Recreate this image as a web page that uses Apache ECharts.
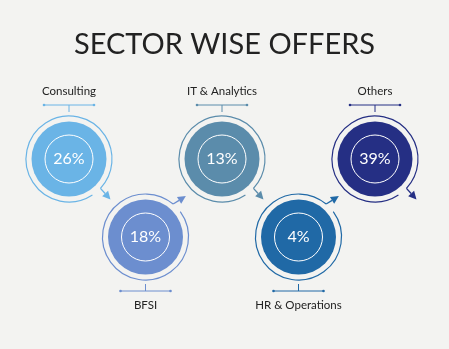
<!DOCTYPE html>
<html>
<head>
<meta charset="utf-8">
<script src="https://cdn.jsdelivr.net/npm/echarts@6/dist/echarts.min.js"></script>
<style>
html,body{margin:0;padding:0;background:#f3f3f1;}
#chart{width:449px;height:349px;}
</style>
</head>
<body>
<div id="chart"></div>
<script>
const title = 'SECTOR WISE OFFERS';
const sectors = ['Consulting', 'BFSI', 'IT & Analytics', 'HR & Operations', 'Others'];
const shares = [26, 18, 13, 4, 39];
const palette = ['#6ab4e6', '#6c8ecf', '#5b8cab', '#2069a6', '#252f84'];

const chart = echarts.init(document.getElementById('chart'));
const deg = Math.PI / 180;

function renderItem(params, api) {
  const idx = params.dataIndex;
  const top = idx % 2 === 0;
  const c = api.coord([api.value(0), top ? 1 : 0]);
  const cx = c[0], cy = c[1];
  const col = palette[idx];
  const R = 43, r = 37.5, ri = 24;
  const exit = top ? 43 : -50;
  const tailDir = top ? 48 : -32;
  const ex = cx + R * Math.cos(exit * deg), ey = cy + R * Math.sin(exit * deg);
  const tl = 15;
  const tx = ex + tl * Math.cos(tailDir * deg), ty = ey + tl * Math.sin(tailDir * deg);
  const ah = 8, aw = 4;
  const ux = Math.cos(tailDir * deg), uy = Math.sin(tailDir * deg);
  const bx = tx - ah * ux, by = ty - ah * uy;
  const px = -uy, py = ux;
  const children = [
    { type: 'arc', shape: { cx, cy, r: R, startAngle: (exit + 14) * deg, endAngle: (exit + 360) * deg, clockwise: true },
      style: { stroke: col, fill: null, lineWidth: 1.2 } },
    { type: 'polyline', shape: { points: [[ex, ey], [bx, by]] }, style: { stroke: col, fill: null, lineWidth: 1.3 } },
    { type: 'polygon', shape: { points: [[tx, ty], [bx + aw * px, by + aw * py], [bx - aw * px, by - aw * py]] }, style: { fill: col } },
    { type: 'circle', shape: { cx, cy, r }, style: { fill: col } },
    { type: 'circle', shape: { cx, cy, r: ri }, style: { fill: null, stroke: '#ffffff', lineWidth: 1 } },
    { type: 'text', style: { x: cx, y: cy, text: api.value(1) + '%', fill: '#ffffff', font: '16px Lato', align: 'center', verticalAlign: 'middle' } }
  ];
  const s = top ? -1 : 1;
  const ly = cy + s * 54;
  const tickEnd = cy + s * 47;
  children.push(
    { type: 'polyline', shape: { points: [[cx - 25, ly], [cx + 25, ly]] }, style: { stroke: col, fill: null, lineWidth: 1 } },
    { type: 'polyline', shape: { points: [[cx, ly], [cx, tickEnd]] }, style: { stroke: col, fill: null, lineWidth: 1 } },
    { type: 'circle', shape: { cx: cx - 25, cy: ly, r: 1.3 }, style: { fill: col } },
    { type: 'circle', shape: { cx: cx + 25, cy: ly, r: 1.3 }, style: { fill: col } },
    { type: 'text', style: { x: cx, y: cy + s * 68, text: sectors[idx], fill: '#222222', font: '11.5px Lato', align: 'center', verticalAlign: 'middle' } }
  );
  return { type: 'group', children };
}

chart.setOption({
  backgroundColor: '#f3f3f1',
  animation: false,
  title: { text: title, left: 'center', top: 25, textStyle: { fontSize: 29, fontFamily: 'Lato', fontWeight: 'normal', color: '#222222' } },
  grid: { left: 30.75, right: 35.75, top: 159, bottom: 112 },
  xAxis: { type: 'category', data: sectors, show: false },
  yAxis: { type: 'value', min: 0, max: 1, show: false },
  series: [{
    type: 'custom',
    renderItem,
    data: sectors.map((s, i) => [i, shares[i]])
  }]
});
</script>
</body>
</html>
